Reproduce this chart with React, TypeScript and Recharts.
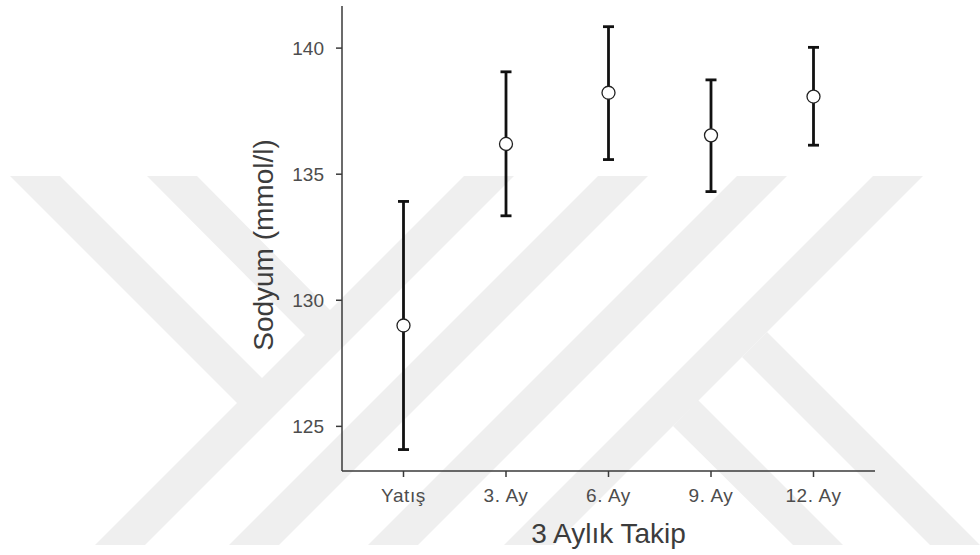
import React from "react";
import { ScatterChart, Scatter, XAxis, YAxis, ErrorBar } from "recharts";

// Sodyum değerleri (ortalama ± SD)
const categories = ["Yatış", "3. Ay", "6. Ay", "9. Ay", "12. Ay"];
const means = [129.0, 136.2, 138.23, 136.54, 138.08];
const lower = [124.08, 133.35, 135.58, 134.31, 136.15];
const upper = [133.92, 139.06, 140.85, 138.74, 140.03];
const yTicks = [125, 130, 135, 140];
const xTicks = [0, 1, 2, 3, 4];

const data = categories.map((c, i) => ({
  i,
  name: c,
  mean: means[i],
  err: [means[i] - lower[i], upper[i] - means[i]],
}));

// light background watermark bands
const watermark = [
  "95,545 145,545 514,176 464,176",
  "229,545 279,545 648,176 598,176",
  "368,545 418,545 787,176 737,176",
  "504,545 554,545 923,176 873,176",
  "10,176 60,176 264,380 239,405",
  "147,176 197,176 332,312 307,337",
  "767,332 980,545 930,545 742,357",
  "698,400 843,545 793,545 673,426",
];

const font = "'Liberation Sans', Arial, sans-serif";
const axisColor = "#3a3a3a";

const Dot = (props: any) => {
  const { cx, cy } = props;
  return <circle cx={cx} cy={cy} r={6.5} fill="#fff" stroke="#222" strokeWidth={1.3} />;
};

export default function App() {
  return (
    <div style={{ position: "relative", width: 980, height: 555, background: "#fff" }}>
      <style>{`body{margin:0}`}</style>
      <svg width={980} height={555} style={{ position: "absolute", left: 0, top: 0 }}>
        {watermark.map((p, k) => (
          <polygon key={k} points={p} fill="#efefef" />
        ))}
      </svg>
      <div style={{ position: "absolute", left: 0, top: 0 }}>
        <ScatterChart width={980} height={555} margin={{ top: 6, right: 105, bottom: 0, left: 0 }}>
          <XAxis
            type="number"
            dataKey="i"
            domain={[-0.6, 4.6]}
            ticks={xTicks}
            tickFormatter={(v: number) => categories[v]}
            height={84}
            tickSize={6}
            tickMargin={12}
            axisLine={{ stroke: axisColor, strokeWidth: 1.5 }}
            tickLine={{ stroke: axisColor, strokeWidth: 1.5 }}
            tick={{ fill: "#4d4d4d", fontSize: 19, fontFamily: font, letterSpacing: 0.6 }}
            allowDataOverflow
            label={{
              content: () => (
                <text x={608.5} y={543} textAnchor="middle" fill="#3c3c3c" fontSize={28} fontFamily={font}>
                  3 Aylık Takip
                </text>
              ),
            }}
          />
          <YAxis
            type="number"
            dataKey="mean"
            domain={[123.23, 141.67]}
            ticks={yTicks}
            width={342}
            tickSize={6}
            tickMargin={12}
            axisLine={{ stroke: axisColor, strokeWidth: 1.5 }}
            tickLine={{ stroke: axisColor, strokeWidth: 1.5 }}
            tick={{ fill: "#4d4d4d", fontSize: 19, fontFamily: font }}
            allowDataOverflow
            label={{
              content: () => (
                <text
                  x={273}
                  y={245}
                  transform="rotate(-90, 273, 245)"
                  textAnchor="middle"
                  fill="#3c3c3c"
                  fontSize={28}
                  fontFamily={font}
                >
                  Sodyum (mmol/l)
                </text>
              ),
            }}
          />
          <Scatter data={data} shape={<Dot />} isAnimationActive={false}>
            <ErrorBar dataKey="err" direction="y" width={5.5} stroke="#111" strokeWidth={2.8} />
          </Scatter>
        </ScatterChart>
      </div>
    </div>
  );
}
